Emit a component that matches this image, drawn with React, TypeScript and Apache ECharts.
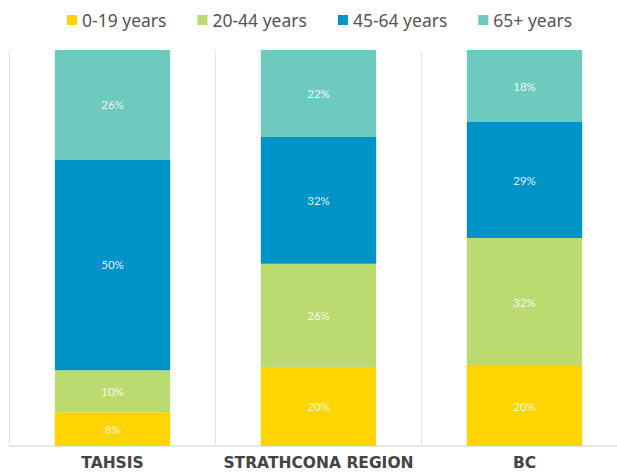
import React, { useEffect, useRef } from "react";
import * as echarts from "echarts";

const categories = ["TAHSIS", "STRATHCONA REGION", "BC"];
const seriesNames = ["0-19 years", "20-44 years", "45-64 years", "65+ years"];
const age0to19 = [8, 20, 20];
const age20to44 = [10, 26, 32];
const age45to64 = [50, 32, 29];
const age65plus = [26, 22, 18];
const colors = ["#FFD400", "#BBDA6F", "#0093C8", "#6EC9BF"];

const allSeries = [age0to19, age20to44, age45to64, age65plus];
const totals = categories.map((_, i) => allSeries.reduce((s, arr) => s + arr[i], 0));

export default function App() {
  const ref = useRef<HTMLDivElement>(null);
  useEffect(() => {
    document.body.style.margin = "0";
    if (!ref.current) return;
    const chart = echarts.init(ref.current, null, { renderer: "svg" });
    chart.setOption({
      animation: false,
      color: colors,
      legend: {
        top: 6,
        left: 62,
        itemWidth: 10,
        itemHeight: 10,
        itemGap: 31,
        icon: "rect",
        textStyle: { fontFamily: "Noto Sans", fontSize: 17.5, color: "#555" },
        data: seriesNames,
      },
      grid: {
        left: 9.5,
        top: 50,
        width: 618,
        bottom: 28,
        containLabel: false,
        outerBoundsMode: "none",
      },
      xAxis: {
        type: "category",
        data: categories,
        axisLine: { show: true, lineStyle: { color: "#e2e2e2", width: 1.5 } },
        axisTick: { show: false },
        splitLine: { show: true, lineStyle: { color: "#e4e4e4", width: 1 } },
        axisLabel: {
          interval: 0,
          margin: 9,
          fontFamily: "DejaVu Sans",
          fontWeight: "bold",
          fontSize: 15.5,
          color: "#444",
        },
      },
      yAxis: { type: "value", min: 0, max: 100, show: false, splitLine: { show: false } },
      series: allSeries.map((arr, si) => ({
        name: seriesNames[si],
        type: "bar",
        stack: "total",
        barWidth: "56%",
        data: arr.map((v, i) => ({ value: (v / totals[i]) * 100, raw: v })),
        label: {
          show: true,
          position: "inside",
          color: "rgba(255,255,255,0.9)",
          fontFamily: "Lato",
          fontSize: 11.5,
          formatter: (p: any) => p.data.raw + "%",
        },
      })),
    });
    return () => chart.dispose();
  }, []);
  return <div ref={ref} style={{ width: 617, height: 474 }} />;
}
